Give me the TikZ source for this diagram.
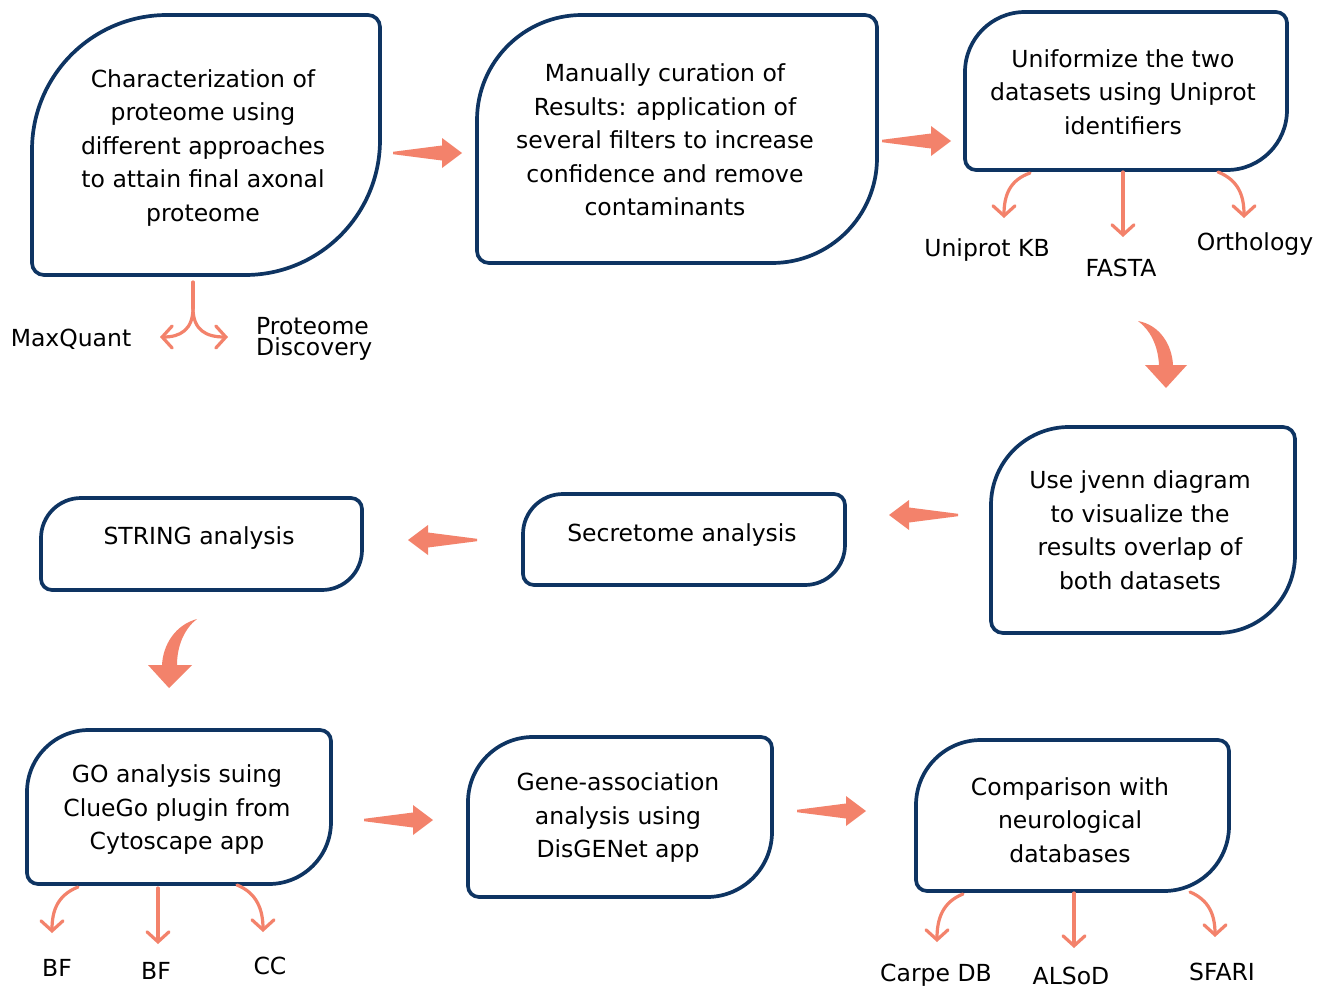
\documentclass[tikz,border=0pt]{standalone}
\usepackage{fontspec}
\setmainfont{DejaVu Sans}
\usetikzlibrary{calc,arrows.meta}
\definecolor{navy}{RGB}{14,52,98}
\definecolor{salmon}{RGB}{243,130,107}
\tikzset{
 shapebox/.style={rectangle, inner sep=0pt, outer sep=0pt, draw=none},
 boxline/.style={draw=navy, line width=3.7pt, line join=round},
 txt/.style={align=center, font=\fontsize{23.5}{33.5}\selectfont, inner sep=0pt},
 lbl/.style={font=\fontsize{23.5}{28}\selectfont, inner sep=0pt},
 thinline/.style={draw=salmon, line width=3.2pt, line cap=round},
 thinarrow/.style={thinline, -{Straight Barb[length=10pt,width=22pt,line cap=round]}},
 blockfill/.style={fill=salmon, draw=none},
}
% name, big radius, small radius
\newcommand{\leafbox}[3]{%
 \draw[boxline] ($(#1.north west)+(#2,0)$) -- ($(#1.north east)+(-#3,0)$)
  arc[start angle=270,end angle=360,radius=#3]
  -- ($(#1.south east)+(0,-#2)$) arc[start angle=0,end angle=90,radius=#2]
  -- ($(#1.south west)+(#3,0)$) arc[start angle=90,end angle=180,radius=#3]
  -- ($(#1.north west)+(0,#2)$) arc[start angle=180,end angle=270,radius=#2]
  -- cycle;}
% tip coordinate name, rotation
\newcommand{\bigarrow}[2]{%
 \fill[blockfill, shift={(#1)}, rotate=#2] (0,0) -- (-20,-15) -- (-20,-7.5) -- (-69,-1.2) -- (-69,1.2) -- (-20,7.5) -- (-20,15) -- cycle;}
\begin{document}
\begin{tikzpicture}[x=1pt,y=-1pt]
\useasboundingbox (0,0) rectangle (1325,990);
\fill[white] (0,0) rectangle (1325,990);

% box shapes
\node[shapebox, minimum width=348pt, minimum height=260pt] (b1) at (206,145) {};
\node[shapebox, minimum width=400pt, minimum height=248pt] (b2) at (677,139) {};
\node[shapebox, minimum width=322pt, minimum height=158pt] (b3) at (1126,91) {};
\node[shapebox, minimum width=304pt, minimum height=206pt] (b4) at (1143,530) {};
\node[shapebox, minimum width=322pt, minimum height=91pt] (b5) at (684,539.5) {};
\node[shapebox, minimum width=321pt, minimum height=92pt] (b6) at (201.5,544) {};
\node[shapebox, minimum width=304pt, minimum height=154pt] (b7) at (179,807) {};
\node[shapebox, minimum width=304pt, minimum height=160pt] (b8) at (620,817) {};
\node[shapebox, minimum width=313pt, minimum height=151pt] (b9) at (1072.5,815.5) {};

\leafbox{b1}{135}{12}
\leafbox{b2}{105}{12}
\leafbox{b3}{60}{11}
\leafbox{b4}{78}{12}
\leafbox{b5}{40}{11}
\leafbox{b6}{40}{11}
\leafbox{b7}{62}{11}
\leafbox{b8}{65}{11}
\leafbox{b9}{65}{11}

% box texts
\node[txt] (t1) at (203,148) {Characterization of\\proteome using\\different approaches\\to attain final axonal\\proteome};
\node[txt] (t2) at (665,140) {Manually curation of\\Results: application of\\several filters to increase\\confidence and remove\\contaminants};
\node[txt] (t3) at (1123,92) {Uniformize the two\\datasets using Uniprot\\identifiers};
\node[txt] (t4) at (1140,530) {Use jvenn diagram\\to visualize the\\results overlap of\\both datasets};
\node[txt] (t5) at (682,535) {Secretome analysis};
\node[txt] (t6) at (199,538) {STRING analysis};
\node[txt] (t7) at (177,810) {GO analysis suing\\ClueGo plugin from\\Cytoscape app};
\node[txt] (t8) at (618,818) {Gene-association\\analysis using\\DisGENet app};
\node[txt] (t9) at (1070,820) {Comparison with\\neurological\\databases};

% labels
\node[lbl] (mq) at (71,339) {MaxQuant};
\node[lbl, anchor=west, align=left, font=\fontsize{23.5}{21}\selectfont] (pd) at (256,339) {Proteome\\Discovery};
\node[lbl] (uk) at (987,250) {Uniprot KB};
\node[lbl] (fa) at (1121,268) {FASTA};
\node[lbl] (or) at (1255,244) {Orthology};
\node[lbl] (bf1) at (57,968) {BF};
\node[lbl] (bf2) at (156,971) {BF};
\node[lbl] (cc) at (270,966) {CC};
\node[lbl] (cdb) at (936,975) {Carpe DB};
\node[lbl] (als) at (1071,976) {ALSoD};
\node[lbl] (sf) at (1222,972) {SFARI};

% block arrows
\coordinate (a1) at (462,153);
\coordinate (a2) at (951,141);
\coordinate (a4) at (889,515);
\coordinate (a5) at (408,540);
\coordinate (a7) at (433,820);
\coordinate (a8) at (866,811);
\bigarrow{a1}{0}
\bigarrow{a2}{0}
\bigarrow{a4}{180}
\bigarrow{a5}{180}
\bigarrow{a7}{0}
\bigarrow{a8}{0}

% curved block arrows
\fill[blockfill] (1138,321) .. controls (1160,325) and (1172,345) .. (1173,365)
  -- (1187,365) -- (1166,388) -- (1145,365) -- (1159,365)
  .. controls (1158,345) and (1150,330) .. (1138,321) -- cycle;
\fill[blockfill] (197,619) .. controls (175,625) and (163,645) .. (162,665)
  -- (148,665) -- (169,688) -- (192,665) -- (177,665)
  .. controls (177,645) and (185,628) .. (197,619) -- cycle;

% split arrow below box 1
\coordinate (s0) at (193,282);
\coordinate (s1) at (193,308);
\coordinate (sl) at (160,337);
\coordinate (sr) at (228,337);
\draw[thinline] (s0) -- (s1);
\draw[thinarrow] (s1) .. controls (193,330) and (180,337) .. (sl);
\draw[thinarrow] (s1) .. controls (193,330) and (206,337) .. (sr);

% arrows below box 3
\coordinate (p1) at (1030,173); \coordinate (q1) at (1004,218);
\coordinate (p2) at (1123,172); \coordinate (q2) at (1123,237);
\coordinate (p3) at (1218,172); \coordinate (q3) at (1244,218);
\draw[thinarrow] (p1) .. controls (1010,180) and (1004,195) .. (q1);
\draw[thinarrow] (p2) -- (q2);
\draw[thinarrow] (p3) .. controls (1238,180) and (1244,195) .. (q3);

% arrows below box 7
\coordinate (g1) at (78,887); \coordinate (h1) at (52,933);
\coordinate (g2) at (158,888); \coordinate (h2) at (158,944);
\coordinate (g3) at (237,885); \coordinate (h3) at (263,932);
\draw[thinarrow] (g1) .. controls (58,895) and (52,910) .. (h1);
\draw[thinarrow] (g2) -- (h2);
\draw[thinarrow] (g3) .. controls (257,893) and (263,910) .. (h3);

% arrows below box 9
\coordinate (c1) at (963,894); \coordinate (d1) at (937,942);
\coordinate (c2) at (1074,893); \coordinate (d2) at (1074,948);
\coordinate (c3) at (1190,892); \coordinate (d3) at (1215,937);
\draw[thinarrow] (c1) .. controls (943,902) and (937,918) .. (d1);
\draw[thinarrow] (c2) -- (d2);
\draw[thinarrow] (c3) .. controls (1209,900) and (1215,915) .. (d3);
\end{tikzpicture}
\end{document}
